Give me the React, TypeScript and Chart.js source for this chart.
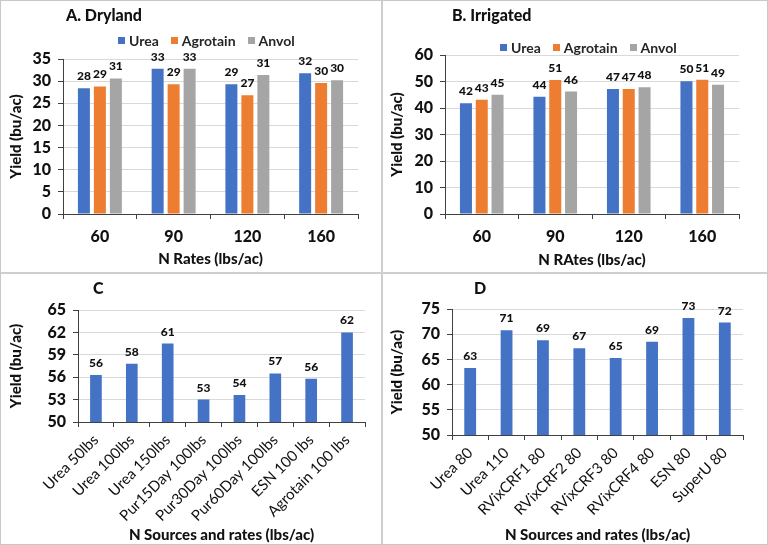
import { useEffect, useRef } from 'react';
import { Chart, registerables } from 'chart.js';

Chart.register(...registerables);

const FONT = 'Lato, "Liberation Sans", Arial, sans-serif';
const BLUE = '#4472C4';
const ORANGE = '#ED7D31';
const GRAY = '#A5A5A5';
const INK = '#111111';
const AXIS = '#404040';

// A. Dryland / B. Irrigated (bu/ac by N rate)
const rates = ['60', '90', '120', '160'];
const dryUrea = [28.4, 32.8, 29.3, 31.8];
const dryAgrotain = [28.8, 29.3, 26.8, 29.6];
const dryAnvol = [30.6, 32.8, 31.4, 30.2];
const irrUrea = [41.8, 44.2, 47.2, 50.1];
const irrAgrotain = [43.1, 50.6, 47.2, 50.7];
const irrAnvol = [45.0, 46.2, 47.8, 48.8];

// C
const sourcesC = ['Urea 50lbs', 'Urea 100lbs', 'Urea 150lbs', 'Pur15Day 100lbs', 'Pur30Day 100lbs', 'Pur60Day 100lbs', 'ESN 100 lbs', 'Agrotain 100 lbs'];
const yieldC = [56.3, 57.8, 60.5, 53.0, 53.6, 56.5, 55.8, 62.0];

// D
const sourcesD = ['Urea 80', 'Urea 110', 'RVixCRF1 80', 'RVixCRF2 80', 'RVixCRF3 80', 'RVixCRF4 80', 'ESN 80', 'SuperU 80'];
const yieldD = [63.3, 70.8, 68.8, 67.2, 65.3, 68.5, 73.2, 72.3];

const valueLabels = {
  id: 'valueLabels',
  afterDatasetsDraw(chart: any) {
    const { ctx } = chart;
    ctx.save();
    ctx.font = `900 12px ${FONT}`;
    ctx.fillStyle = INK;
    ctx.textAlign = 'center';
    ctx.textBaseline = 'alphabetic';
    chart.data.datasets.forEach((ds: any, i: number) => {
      chart.getDatasetMeta(i).data.forEach((bar: any, j: number) => {
        ctx.fillText(String(Math.round(ds.data[j])), bar.x, bar.y - 8);
      });
    });
    ctx.restore();
  },
};

type Series = { label: string; data: number[]; color: string };

type PanelProps = {
  left: number;
  top: number;
  width: number;
  height: number;
  title: string;
  titleX: number;
  labels: string[];
  series: Series[];
  yMin: number;
  yMax: number;
  step: number;
  xTitle: string;
  pad: { top: number; right: number; bottom: number };
  yWidth: number;
  xHeight: number;
  yTitlePad: number;
  rotated: boolean;
  cp: number;
  bp: number;
  legendX?: number;
  legendY?: number;
};

function Panel(p: PanelProps) {
  const chartRef = useRef<HTMLCanvasElement>(null);
  const chartInstance = useRef<Chart | null>(null);

  useEffect(() => {
    if (!chartRef.current) return;
    if (chartInstance.current) chartInstance.current.destroy();

    const heavy = { family: FONT, size: 15, weight: '900' as any };

    chartInstance.current = new Chart(chartRef.current, {
      type: 'bar',
      data: {
        labels: p.labels,
        datasets: p.series.map(s => ({
          label: s.label,
          data: s.data,
          backgroundColor: s.color,
          borderWidth: 0,
          categoryPercentage: p.cp,
          barPercentage: p.bp,
        })),
      },
      options: {
        responsive: false,
        animation: false,
        layout: { padding: { left: 0, top: p.pad.top, right: p.pad.right, bottom: p.pad.bottom } },
        plugins: {
          legend: { display: false },
          tooltip: { enabled: false },
        },
        scales: {
          x: {
            ticks: {
              font: p.rotated ? { family: FONT, size: 15 } : { ...heavy, size: 16 },
              color: INK,
              padding: p.rotated ? 4 : 8,
              minRotation: p.rotated ? 45 : 0,
              maxRotation: p.rotated ? 45 : 0,
              autoSkip: false,
            },
            grid: { drawOnChartArea: false, offset: true, tickLength: 5, tickColor: AXIS },
            border: { display: true, color: AXIS, width: 1 },
            title: { display: true, text: p.xTitle, font: heavy, color: INK, padding: { top: 0, bottom: 0 } },
            afterFit: (s: any) => { s.height = p.xHeight; },
          },
          y: {
            min: p.yMin,
            max: p.yMax,
            ticks: { stepSize: p.step, font: { ...heavy, size: 16 }, color: INK, padding: 7, autoSkip: false },
            grid: { color: '#d9d9d9', tickColor: AXIS, tickLength: 5 },
            border: { display: true, color: AXIS, width: 1 },
            title: { display: true, text: 'Yield (bu/ac)', font: heavy, color: INK, padding: { top: p.yTitlePad, bottom: 0 } },
            afterFit: (s: any) => { s.width = p.yWidth; },
          },
        },
      },
      plugins: [valueLabels],
    });

    return () => {
      if (chartInstance.current) {
        chartInstance.current.destroy();
        chartInstance.current = null;
      }
    };
  }, []);

  return (
    <div style={{ position: 'absolute', left: p.left, top: p.top, width: p.width, height: p.height }}>
      <canvas ref={chartRef} width={p.width} height={p.height} style={{ display: 'block' }} />
      <div
        style={{
          position: 'absolute', left: p.titleX, top: 4, fontFamily: FONT, fontWeight: 900,
          fontSize: 16, lineHeight: '20px', color: INK, whiteSpace: 'nowrap',
        }}
      >
        {p.title}
      </div>
      {p.legendX !== undefined && (
        <div
          style={{
            position: 'absolute', left: p.legendX, top: (p.legendY || 0) - 8, height: 16,
            display: 'flex', alignItems: 'center', gap: 12, fontFamily: FONT, fontSize: 14,
            fontWeight: 'bold', color: '#262626', whiteSpace: 'nowrap',
          }}
        >
          {p.series.map(s => (
            <span key={s.label} style={{ display: 'flex', alignItems: 'center', gap: 4 }}>
              <span style={{ width: 7, height: 7, background: s.color, display: 'inline-block' }} />
              {s.label}
            </span>
          ))}
        </div>
      )}
    </div>
  );
}

export default function App() {
  return (
    <div
      style={{
        position: 'absolute', left: 0, top: 0, width: 768, height: 545, background: '#fff',
        boxSizing: 'border-box', border: '1px solid #c8c8c8', overflow: 'hidden',
      }}
    >
      <Panel
        left={0} top={0} width={381} height={271}
        title="A. Dryland" titleX={65}
        labels={rates}
        series={[
          { label: 'Urea', data: dryUrea, color: BLUE },
          { label: 'Agrotain', data: dryAgrotain, color: ORANGE },
          { label: 'Anvol', data: dryAnvol, color: GRAY },
        ]}
        yMin={0} yMax={35} step={5}
        xTitle="N Rates (lbs/ac)"
        pad={{ top: 58, right: 24, bottom: 4 }} yWidth={62} xHeight={54} yTitlePad={6}
        rotated={false} cp={0.65} bp={0.75}
        legendX={117} legendY={39}
      />
      <Panel
        left={384} top={0} width={384} height={271}
        title="B. Irrigated" titleX={67}
        labels={rates}
        series={[
          { label: 'Urea', data: irrUrea, color: BLUE },
          { label: 'Agrotain', data: irrAgrotain, color: ORANGE },
          { label: 'Anvol', data: irrAnvol, color: GRAY },
        ]}
        yMin={0} yMax={60} step={10}
        xTitle="N RAtes (lbs/ac)"
        pad={{ top: 54, right: 30, bottom: 3 }} yWidth={60} xHeight={55} yTitlePad={3}
        rotated={false} cp={0.645} bp={0.76}
        legendX={115} legendY={46}
      />
      <Panel
        left={0} top={273} width={381} height={272}
        title="C" titleX={92}
        labels={sourcesC}
        series={[{ label: 'Yield', data: yieldC, color: BLUE }]}
        yMin={50} yMax={65} step={3}
        xTitle="N Sources and rates (lbs/ac)"
        pad={{ top: 36, right: 17, bottom: 2 }} yWidth={77} xHeight={122} yTitlePad={6}
        rotated={true} cp={0.65} bp={0.5}
      />
      <Panel
        left={384} top={273} width={384} height={272}
        title="D" titleX={89}
        labels={sourcesD}
        series={[{ label: 'Yield', data: yieldD, color: BLUE }]}
        yMin={50} yMax={75} step={5}
        xTitle="N Sources and rates (lbs/ac)"
        pad={{ top: 35, right: 26, bottom: 2 }} yWidth={67} xHeight={109} yTitlePad={3}
        rotated={true} cp={0.65} bp={0.5}
      />
      <div style={{ position: 'absolute', left: 380, top: 0, width: 2, height: 545, background: '#cfcfcf' }} />
      <div style={{ position: 'absolute', left: 0, top: 271, width: 768, height: 2, background: '#cfcfcf' }} />
    </div>
  );
}
